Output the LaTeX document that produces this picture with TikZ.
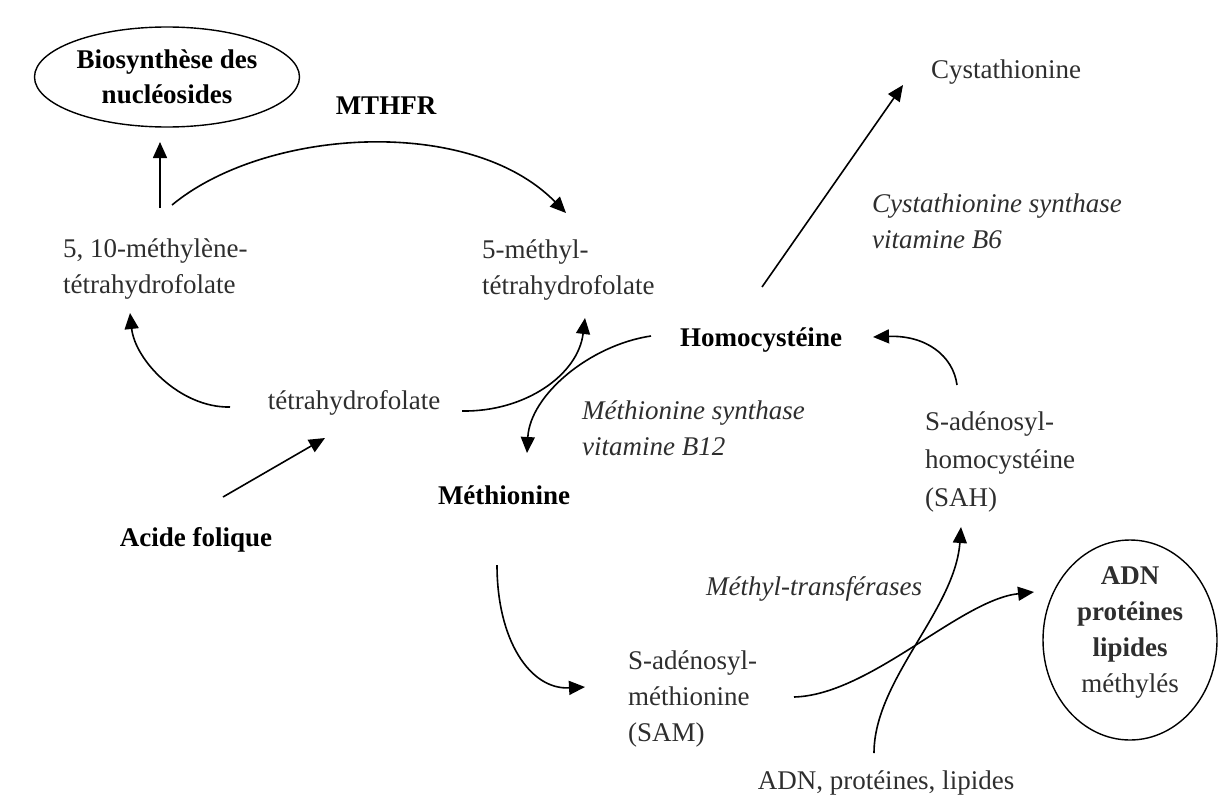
\documentclass[tikz,border=0pt]{standalone}
\usepackage{fontspec}
\setmainfont{Liberation Serif}
\usetikzlibrary{arrows.meta,calc,shapes.geometric}
\begin{document}
\begin{tikzpicture}[x=1pt,y=-1pt,
  every node/.style={font=\fontsize{27}{36}\selectfont, text=black!82, inner sep=0pt},
  lbl/.style={align=left},
  blbl/.style={font=\fontsize{27}{36}\selectfont\bfseries, text=black},
  ilbl/.style={font=\fontsize{27}{36}\selectfont\itshape, align=left},
  oval/.style={ellipse, draw=black, line width=1.4pt, align=center},
  arr/.style={draw=black, line width=1.6pt, -{Triangle[length=16pt,width=14pt]}}]
\useasboundingbox (0,0) rectangle (1220,808);
% nodes
\node[oval, minimum width=265, minimum height=100, font=\fontsize{27}{35}\selectfont\bfseries, text=black] (bio) at (167,77) {Biosynthèse des\\nucléosides};
\node[blbl] (mthfr) at (386,106) {MTHFR};
\node[lbl, anchor=west] (mthf10) at (63,269) {5, 10-méthylène-\\tétrahydrofolate};
\node[lbl, anchor=west] (mthf5) at (482,270) {5-méthyl-\\tétrahydrofolate};
\node (thf) at (354,403) {tétrahydrofolate};
\node[blbl] (acide) at (196,540) {Acide folique};
\node[blbl] (homo) at (761,340) {Homocystéine};
\node[ilbl, anchor=west] (ms) at (582,428) {Méthionine synthase\\vitamine B12};
\node[blbl] (methio) at (504,495) {Méthionine};
\node (cysta) at (1006,72) {Cystathionine};
\node[ilbl, anchor=west] (cs) at (872,221) {Cystathionine synthase\\vitamine B6};
\node[lbl, anchor=west] (sah) at (925,462) {S-adénosyl-\\[2pt]homocystéine\\[2pt](SAH)};
\node[lbl, anchor=west] (sam) at (628,699) {S-adénosyl-\\méthionine\\(SAM)};
\node[ilbl, anchor=west] (mt) at (706,589) {Méthyl-transférases};
\node[oval, minimum width=174, minimum height=200] (adnm) at (1130,640) {};
\node[align=center] (adnmt) at (1130,632) {\textbf{ADN}\\\textbf{protéines}\\\textbf{lipides}\\méthylés};
\node (adn) at (886,783) {ADN, protéines, lipides};
% connectors
\draw[arr] ($(mthf10.west)+(97,-61)$) -- ($(bio)+(-7,65)$);
\draw[arr] ($(mthf10.west)+(109,-64)$) .. controls (265,128) and (470,115) .. ($(mthf5.west)+(84,-57)$);
\draw[arr] ($(thf)+(-124,4)$) .. controls (180,408) and (135,360) .. ($(mthf10.west)+(67,44)$);
\draw[arr] ($(acide)+(27,-43)$) -- ($(thf)+(-29,35)$);
\draw[arr] ($(thf)+(108,8)$) .. controls (525,412) and (578,375) .. ($(mthf5.west)+(103,48)$);
\draw[arr] ($(homo)+(-110,-4)$) .. controls (590,345) and (530,395) .. ($(methio)+(23,-42)$);
\draw[arr] ($(homo)+(1,-53)$) -- ($(cysta)+(-103,13)$);
\draw[arr] ($(sah.west)+(32,-77)$) .. controls (953,355) and (925,335) .. ($(homo)+(112,-3)$);
\draw[arr] ($(methio)+(-7,70)$) .. controls (497,640) and (530,690) .. ($(sam.west)+(-43,-12)$);
\draw[arr] ($(sam.west)+(166,-2)$) .. controls (870,695) and (960,600) .. ($(adnm)+(-96,-48)$);
\draw[arr] ($(adn)+(-12,-30)$) .. controls (874,680) and (955,610) .. ($(sah.west)+(36,65)$);
\end{tikzpicture}
\end{document}
